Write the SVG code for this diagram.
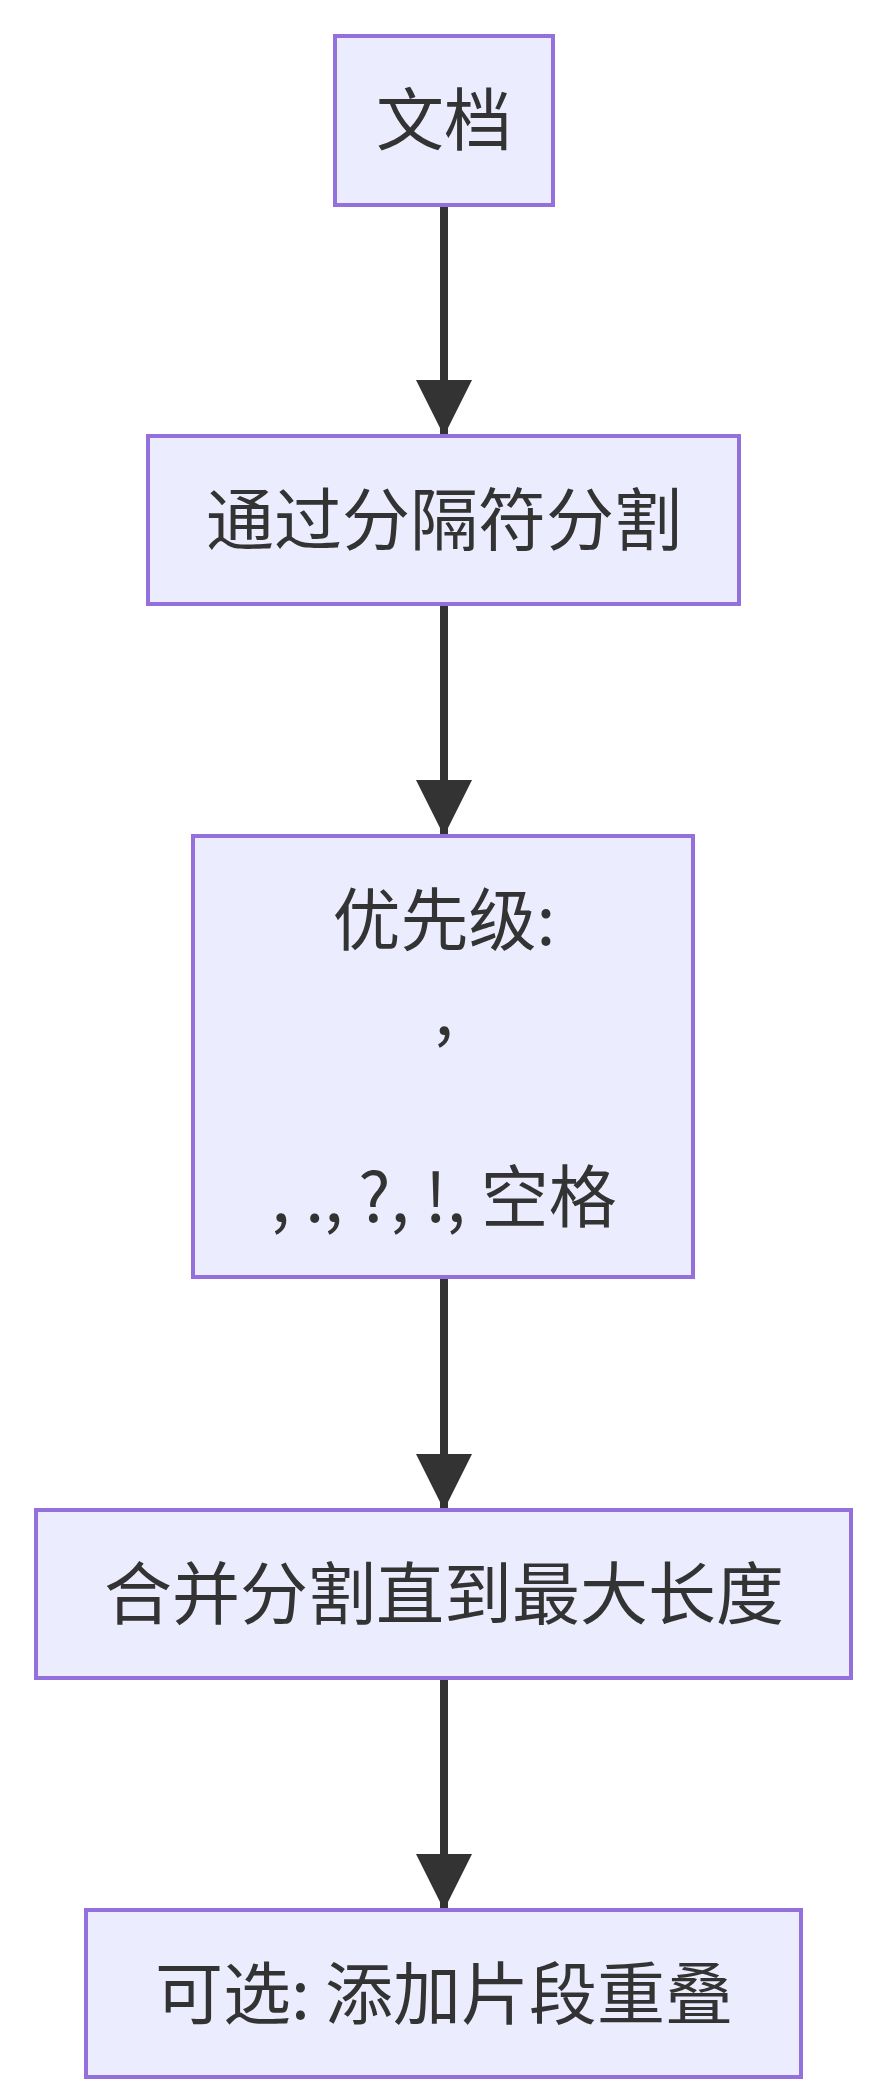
<svg xmlns="http://www.w3.org/2000/svg" width="882" height="2100" viewBox="0 0 882 2100">
<style>
.n{fill:#ECECFF;stroke:#9370DB;stroke-width:4}
.t{font-family:"Noto Sans CJK SC","Liberation Sans",sans-serif;font-size:68px;fill:#333;text-anchor:middle}
.e{stroke:#333;stroke-width:8;fill:none}
</style>
<defs><marker id="a" viewBox="0 0 10 10" refX="10" refY="5" markerUnits="userSpaceOnUse" markerWidth="56" markerHeight="56" orient="auto"><path d="M0,0L10,5L0,10z" fill="#333"/></marker></defs>
<rect width="882" height="2100" fill="#fff"/>
<g id="edges">
<path class="e" d="M444,205V436" marker-end="url(#a)"/>
<path class="e" d="M444,604V836" marker-end="url(#a)"/>
<path class="e" d="M444,1277V1510" marker-end="url(#a)"/>
<path class="e" d="M444,1678V1910" marker-end="url(#a)"/>
</g>
<g id="n1"><rect class="n" x="335" y="36" width="218" height="169"/><text class="t" x="444" y="145">文档</text></g>
<g id="n2"><rect class="n" x="148" y="436" width="591" height="168"/><text class="t" x="444" y="545">通过分隔符分割</text></g>
<g id="n3"><rect class="n" x="193" y="836" width="500" height="441"/><text class="t" x="444" y="945">优先级:</text><text class="t" x="444" y="1035">,</text><text class="t" x="444" y="1222">, ., ?, !, 空格</text></g>
<g id="n4"><rect class="n" x="36" y="1510" width="815" height="168"/><text class="t" x="444" y="1619">合并分割直到最大长度</text></g>
<g id="n5"><rect class="n" x="86" y="1910" width="715" height="167"/><text class="t" x="444" y="2019">可选: 添加片段重叠</text></g>
</svg>
